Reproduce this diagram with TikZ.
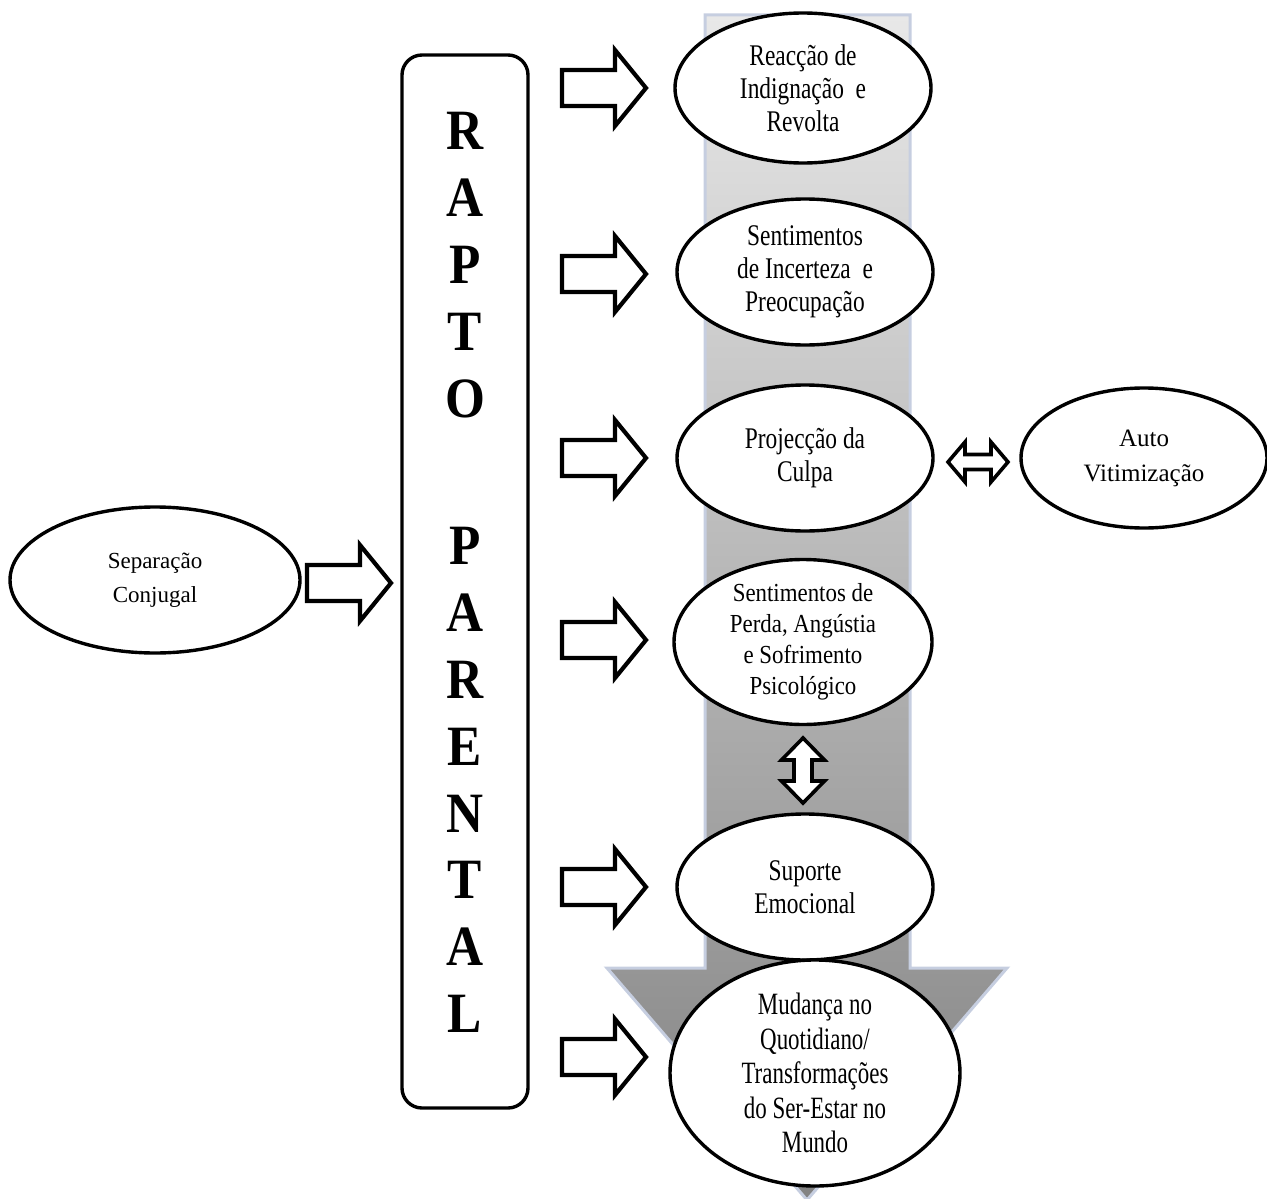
\documentclass[tikz,border=0pt]{standalone}
\usepackage{fontspec}
\setmainfont{Liberation Serif}
\newfontfamily\condf[FakeStretch=0.78]{Liberation Serif}
\newfontfamily\perdaf[FakeStretch=0.88]{Liberation Serif}
\newfontfamily\mudf[FakeStretch=0.74]{Liberation Serif}
\newfontfamily\letf[FakeStretch=0.9]{Liberation Serif}
\usetikzlibrary{shapes.geometric}
\definecolor{bigborder}{RGB}{198,206,224}
\definecolor{biglight}{RGB}{232,232,232}
\definecolor{bigdark}{RGB}{130,130,130}
\tikzset{
  oval/.style={ellipse, draw=black, line width=3.4pt, fill=white, inner sep=0pt, align=center},
  rtext/.style={oval, font=\condf\fontsize{30}{33}\selectfont},
  blockarrow/.style={draw=black, line width=4.2pt, fill=white, line join=miter},
  dblarrow/.style={draw=black, line width=3.6pt, fill=white, line join=miter},
  letter/.style={font=\letf\bfseries\fontsize{57}{57}\selectfont, inner sep=0pt},
  rarrow/.pic={\draw[blockarrow] (0,-18) -- (53,-18) -- (53,-38) -- (84,0) -- (53,38) -- (53,18) -- (0,18) -- cycle;}
}
\begin{document}
\begin{tikzpicture}[x=1pt,y=-1pt]
\useasboundingbox (0,0) rectangle (1267,1199);
% big background arrow
\shade[top color=biglight, bottom color=bigdark]
  (705,15) -- (910,15) -- (910,968) -- (1007,968) -- (807,1200) -- (607,968) -- (705,968) -- cycle;
\draw[bigborder, line width=3pt, line join=miter]
  (705,15) -- (910,15) -- (910,968) -- (1007,968) -- (807,1200) -- (607,968) -- (705,968) -- cycle;

% RAPTO PARENTAL box
\node[draw=black, line width=3.4pt, rounded corners=20pt, fill=white, minimum width=126pt, minimum height=1053pt, inner sep=0pt] (rapto) at (465,581.5) {};
\node[letter] (l1) at (465,131) {R};
\node[letter] (l2) at (465,198) {A};
\node[letter] (l3) at (465,265) {P};
\node[letter] (l4) at (465,332) {T};
\node[letter] (l5) at (465,399) {O};
\node[letter] (l6) at (465,546) {P};
\node[letter] (l7) at (465,613) {A};
\node[letter] (l8) at (465,680) {R};
\node[letter] (l9) at (465,747) {E};
\node[letter] (l10) at (465,814) {N};
\node[letter] (l11) at (465,880) {T};
\node[letter] (l12) at (465,947) {A};
\node[letter] (l13) at (465,1014) {L};

% ellipses
\node[oval, font=\fontsize{23}{34}\selectfont, minimum width=290pt, minimum height=146pt] (sep) at (155,580) {Separação\\Conjugal};
\node[rtext, minimum width=256pt, minimum height=150pt] (reac) at (803,88) {Reacção de\\Indignação~ e\\Revolta};
\node[rtext, minimum width=256pt, minimum height=146pt] (incer) at (805,272) {Sentimentos\\de Incerteza~ e\\Preocupação};
\node[rtext, minimum width=256pt, minimum height=146pt] (proj) at (805,458) {Projecção da\\Culpa};
\node[oval, font=\fontsize{25}{35}\selectfont, minimum width=246pt, minimum height=140pt] (auto) at (1144,458) {Auto\\Vitimização};
\node[oval, font=\perdaf\fontsize{26}{31}\selectfont, minimum width=258pt, minimum height=160pt] (perda) at (803,642) {Sentimentos de\\Perda, Angústia\\e Sofrimento\\Psicológico};
\node[rtext, minimum width=256pt, minimum height=146pt] (sup) at (805,887) {Suporte\\Emocional};
\node[oval, font=\mudf\fontsize{31}{34.5}\selectfont, minimum width=290pt, minimum height=200pt] (mud) at (815,1073) {Mudança no\\Quotidiano/\\Transformações\\do Ser-Estar no\\Mundo};

% block arrows
\pic at (307,583) {rarrow};
\pic at (562,88) {rarrow};
\pic at (562,274) {rarrow};
\pic at (562,458) {rarrow};
\pic at (562,640) {rarrow};
\pic at (562,887) {rarrow};
\pic at (562,1057) {rarrow};

% double arrows
\draw[dblarrow] (948,462) -- ++(17,-20) -- ++(0,12.5) -- ++(26,0) -- ++(0,-12.5) -- ++(17,20) -- ++(-17,20) -- ++(0,-12.5) -- ++(-26,0) -- ++(0,12.5) -- cycle;
\draw[dblarrow] (803,738) -- ++(21.5,22) -- ++(-12.5,0) -- ++(0,21) -- ++(12.5,0) -- ++(-21.5,22) -- ++(-21.5,-22) -- ++(12.5,0) -- ++(0,-21) -- ++(-12.5,0) -- cycle;
\end{tikzpicture}
\end{document}
